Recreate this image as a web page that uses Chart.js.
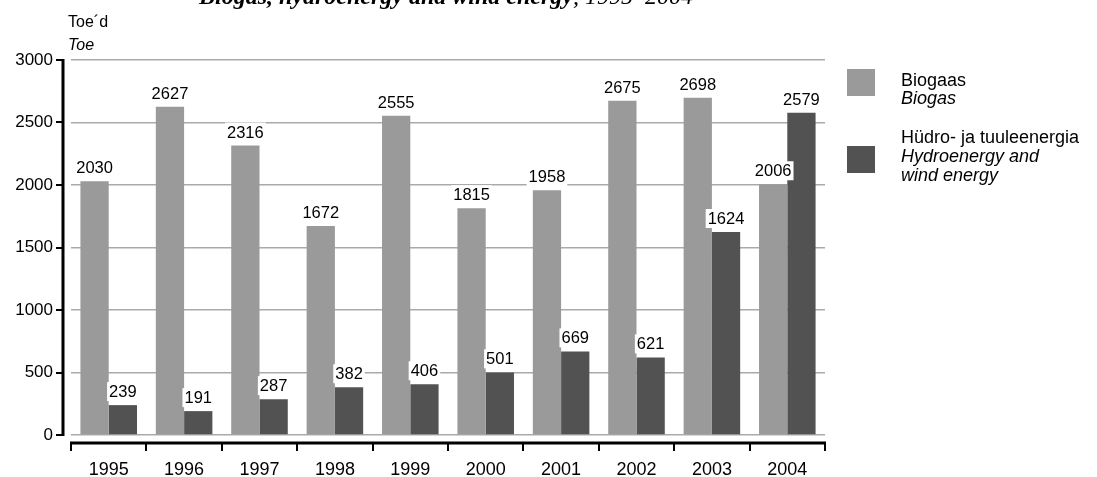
<!DOCTYPE html>
<html>
<head>
<meta charset="utf-8">
<script src="https://cdn.jsdelivr.net/npm/chart.js@4"></script>
<style>
  body { margin: 0; background: #fff; }
  #wrap { width: 1097px; height: 477px; position: relative; }
</style>
</head>
<body>
<div id="wrap"><canvas id="graphCanvas" width="1097" height="477"></canvas></div>
<script>
let years = ['1995', '1996', '1997', '1998', '1999', '2000', '2001', '2002', '2003', '2004'];
let biogas = [2030, 2627, 2316, 1672, 2555, 1815, 1958, 2675, 2698, 2006];
let hydroWind = [239, 191, 287, 382, 406, 501, 669, 621, 1624, 2579];
let yTicks = [0, 500, 1000, 1500, 2000, 2500, 3000];

let lightGrey = '#9a9a9a';
let darkGrey = '#525252';
let font = 'Liberation Sans, Arial, sans-serif';

// title (clipped at the top like in the original), axis lines, labels, legend
let extras = {
    id: 'extras',
    beforeDraw(chart) {
        let ctx = chart.ctx;
        ctx.save();
        ctx.fillStyle = '#000';
        ctx.textBaseline = 'alphabetic';
        ctx.textAlign = 'left';
        ctx.font = 'bold italic 24px "Liberation Serif", "Times New Roman", serif';
        let t1 = 'Biogas, hydroenergy and wind energy';
        ctx.fillText(t1, 199, 4);
        let w = ctx.measureText(t1).width;
        ctx.font = 'italic 24px "Liberation Serif", "Times New Roman", serif';
        ctx.fillText(', 1995–2004', 199 + w, 4);
        ctx.restore();
    },
    afterDatasetsDraw(chart) {
        let ctx = chart.ctx;
        let area = chart.chartArea;
        let y = chart.scales.y;
        let x = chart.scales.x;
        ctx.save();

        // y axis line with ticks pointing left
        ctx.strokeStyle = '#000';
        ctx.lineWidth = 3;
        let ax = area.left - 8;
        ctx.beginPath();
        ctx.moveTo(ax, y.getPixelForValue(3000) - 1);
        ctx.lineTo(ax, y.getPixelForValue(0) + 1);
        ctx.stroke();
        ctx.lineWidth = 2;
        yTicks.forEach(v => {
            let py = Math.round(y.getPixelForValue(v));
            ctx.beginPath();
            ctx.moveTo(ax - 7, py);
            ctx.lineTo(ax, py);
            ctx.stroke();
        });

        // x axis line below the plot with ticks between categories
        let bx = area.bottom + 8;
        let step = (x.right - x.left) / years.length;
        ctx.lineWidth = 3;
        ctx.beginPath();
        ctx.moveTo(x.left - 1, bx);
        ctx.lineTo(x.right + 1, bx);
        ctx.stroke();
        ctx.lineWidth = 2;
        for (let i = 0; i <= years.length; i++) {
            let px = Math.round(x.left + i * step);
            ctx.beginPath();
            ctx.moveTo(px, bx);
            ctx.lineTo(px, bx + 8);
            ctx.stroke();
        }

        // value labels on white boxes
        ctx.font = '16.5px ' + font;
        ctx.textAlign = 'center';
        ctx.textBaseline = 'alphabetic';
        chart.data.datasets.forEach((ds, di) => {
            chart.getDatasetMeta(di).data.forEach((bar, i) => {
                let txt = String(ds.data[i]);
                let tw = ctx.measureText(txt).width;
                let base = bar.y - 8;
                ctx.fillStyle = '#fff';
                ctx.fillRect(bar.x - tw / 2 - 2, base - 15, tw + 4, 19);
                ctx.fillStyle = '#000';
                ctx.fillText(txt, bar.x, base);
            });
        });

        // unit label
        ctx.textAlign = 'left';
        ctx.font = '16px ' + font;
        ctx.fillText('Toe´d', 68, 27);
        ctx.font = 'italic 16px ' + font;
        ctx.fillText('Toe', 68, 50);

        // legend
        let lx = 847;
        ctx.fillStyle = lightGrey;
        ctx.fillRect(lx, 69, 28, 27);
        ctx.fillStyle = darkGrey;
        ctx.fillRect(lx, 146, 28, 27);
        ctx.fillStyle = '#000';
        ctx.font = '18px ' + font;
        ctx.fillText('Biogaas', 901, 86);
        ctx.fillText('Hüdro- ja tuuleenergia', 901, 143);
        ctx.font = 'italic 18px ' + font;
        ctx.fillText('Biogas', 901, 104);
        ctx.fillText('Hydroenergy and', 901, 162);
        ctx.fillText('wind energy', 901, 181);
        ctx.restore();
    }
};

let chartdata = {
    labels: years,
    datasets: [{
        label: 'Biogaas',
        backgroundColor: lightGrey,
        data: biogas,
        categoryPercentage: 0.75,
        barPercentage: 1
    }, {
        label: 'Hüdro- ja tuuleenergia',
        backgroundColor: darkGrey,
        data: hydroWind,
        categoryPercentage: 0.75,
        barPercentage: 1
    }]
};

new Chart(document.getElementById('graphCanvas'), {
    type: 'bar',
    data: chartdata,
    plugins: [extras],
    options: {
        responsive: false,
        animation: false,
        layout: { padding: { top: 60, right: 272, left: 0, bottom: 0 } },
        plugins: {
            legend: { display: false },
            tooltip: { enabled: false }
        },
        scales: {
            x: {
                grid: { display: false },
                border: { display: false },
                ticks: { color: '#000', font: { family: font, size: 18 }, padding: 16, maxRotation: 0 },
                afterFit(scale) { scale.height = 42; }
            },
            y: {
                min: 0,
                max: 3000,
                grid: { color: '#aaaaaa', lineWidth: 1.5, drawTicks: false },
                border: { display: false },
                ticks: {
                    stepSize: 500,
                    color: '#000',
                    padding: 18,
                    font: { family: font, size: 17 },
                    callback: v => String(v)
                },
                afterFit(scale) { scale.width = 71; }
            }
        }
    }
});
</script>
</body>
</html>
